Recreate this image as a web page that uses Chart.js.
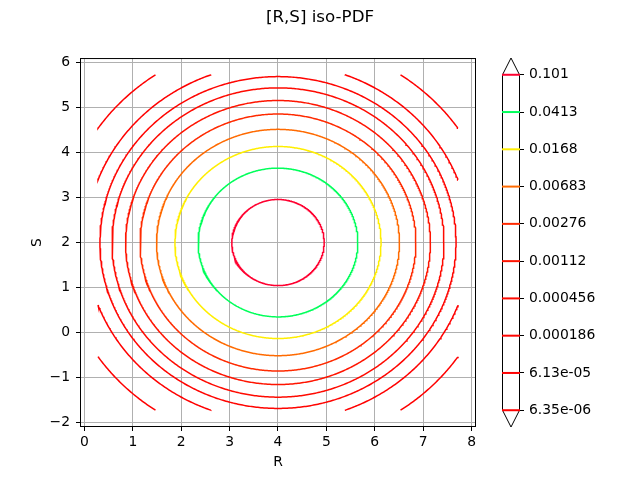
<!DOCTYPE html>
<html lang="en">
<head>
    <meta charset="UTF-8">
    <title>[R,S] iso-PDF</title>
    <style>
        * { margin: 0; padding: 0; box-sizing: border-box; }
        body { background: white; width: 640px; height: 480px; overflow: hidden; }
        .wrap { position: relative; width: 640px; height: 480px; }
        .wrap canvas { position: absolute; left: 0; top: 0; }
    </style>
    <script src="https://cdn.jsdelivr.net/npm/chart.js"></script>
</head>
<body>
<div class="wrap">
    <canvas id="pdfChart" width="640" height="480"></canvas>
    <canvas id="barChart" width="640" height="480"></canvas>
</div>
<script>
    // contour levels, lowest first (colorbar reads bottom to top)
    const levelLabels = ['6.35e-06', '6.13e-05', '0.000186', '0.000456', '0.00112', '0.00276', '0.00683', '0.0168', '0.0413', '0.101'];
    // radius of each iso-line around the centre
    const levelRadii = [4.50, 3.97, 3.68, 3.43, 3.15, 2.85, 2.51, 2.13, 1.65, 0.955];
    const levelColors = ['#ff0000', '#ff0000', '#ff0400', '#ff0a00', '#ff1400', '#ff2a00', '#ff6a00', '#ffee00', '#00ff5a', '#ff0030'];
    const centerR = 4, centerS = 2;
    // extent of the evaluation grid
    const gridR = [0.28, 7.72];
    const gridS = [-1.72, 5.72];
    const rTicks = [0, 1, 2, 3, 4, 5, 6, 7, 8];
    const sTicks = [-2, -1, 0, 1, 2, 3, 4, 5, 6];

    const FONT = 'DejaVu Sans';

    function inside(x, y) {
        return x >= gridR[0] && x <= gridR[1] && y >= gridS[0] && y <= gridS[1];
    }
    function pt(r, a) {
        return { x: centerR + r * Math.cos(a), y: centerS + r * Math.sin(a) };
    }
    // edge point between an inside angle and an outside angle
    function edge(r, aIn, aOut) {
        for (let k = 0; k < 40; k++) {
            const m = (aIn + aOut) / 2;
            const p = pt(r, m);
            if (inside(p.x, p.y)) aIn = m; else aOut = m;
        }
        return pt(r, aIn);
    }
    function contour(r) {
        const n = 720, out = [];
        let prevA = 0, prevIn = null;
        for (let i = 0; i <= n; i++) {
            const a = 2 * Math.PI * i / n;
            const p = pt(r, a);
            const isIn = inside(p.x, p.y);
            if (prevIn !== null && isIn !== prevIn) {
                if (isIn) {
                    out.push(edge(r, a, prevA));
                } else {
                    out.push(edge(r, prevA, a));
                    out.push({ x: p.x, y: null });
                }
            }
            if (isIn) out.push(p);
            prevA = a; prevIn = isIn;
        }
        return out;
    }

    const pad = (gridR[1] - gridR[0]) * 0.05;
    const padS = (gridS[1] - gridS[0]) * 0.05;

    const frame = {
        id: 'frame',
        afterDraw(chart) {
            const a = chart.chartArea, ctx = chart.ctx;
            ctx.save();
            ctx.strokeStyle = '#000';
            ctx.lineWidth = 1;
            ctx.strokeRect(a.left + 0.5, a.top + 0.5, a.right - a.left - 1, a.bottom - a.top - 1);
            ctx.restore();
        }
    };

    new Chart(document.getElementById('pdfChart'), {
        type: 'scatter',
        data: {
            datasets: levelRadii.map((r, i) => ({
                label: levelLabels[i],
                data: contour(r),
                showLine: true,
                borderColor: levelColors[i],
                borderWidth: 1.5,
                pointRadius: 0,
                tension: 0,
                spanGaps: false
            }))
        },
        options: {
            responsive: false,
            animation: false,
            plugins: {
                legend: { display: false },
                tooltip: { enabled: false },
                title: {
                    display: true,
                    text: '[R,S] iso-PDF',
                    color: '#000',
                    font: { family: FONT, size: 16.7, weight: 'normal' },
                    padding: { top: 8, bottom: 30 }
                }
            },
            scales: {
                x: {
                    type: 'linear',
                    min: gridR[0] - pad,
                    max: gridR[1] + pad,
                    afterBuildTicks: s => { s.ticks = rTicks.map(v => ({ value: v })); },
                    afterFit: s => { s.height = 53; },
                    grid: { color: '#b0b0b0', lineWidth: 1, tickColor: '#000', tickLength: 4 },
                    border: { display: false },
                    ticks: { color: '#000', font: { family: FONT, size: 13.9 }, padding: 3, maxRotation: 0 },
                    title: { display: true, text: 'R', color: '#000', font: { family: FONT, size: 13.9 }, padding: { top: 0, bottom: 9 } }
                },
                y: {
                    type: 'linear',
                    min: gridS[0] - padS,
                    max: gridS[1] + padS,
                    afterBuildTicks: s => { s.ticks = sTicks.map(v => ({ value: v })); },
                    afterFit: s => { s.width = 80; },
                    grid: { color: '#b0b0b0', lineWidth: 1, tickColor: '#000', tickLength: 4 },
                    border: { display: false },
                    ticks: { color: '#000', font: { family: FONT, size: 13.9 }, padding: 6,
                        callback: v => String(v).replace('-', '\u2212') },
                    title: { display: true, text: 'S', color: '#000', font: { family: FONT, size: 13.9 }, padding: { top: 29, bottom: 0 } }
                },
                side: {
                    type: 'linear',
                    position: 'right',
                    afterFit: s => { s.width = 164; },
                    grid: { display: false },
                    border: { display: false },
                    ticks: { display: false }
                }
            }
        },
        plugins: [frame]
    });

    // colorbar: one line per level, with triangle ends
    const barOutline = {
        id: 'barOutline',
        beforeDatasetsDraw(chart) {
            const a = chart.chartArea, ctx = chart.ctx, y = chart.scales.y;
            const yTop = y.getPixelForValue(levelLabels.length - 1);
            const yBot = y.getPixelForValue(0);
            const mid = (a.left + a.right) / 2;
            ctx.save();
            ctx.strokeStyle = '#000';
            ctx.lineWidth = 1;
            ctx.beginPath();
            ctx.moveTo(a.left + 0.5, yBot);
            ctx.lineTo(a.left + 0.5, yTop);
            ctx.lineTo(mid, a.top);
            ctx.lineTo(a.right - 0.5, yTop);
            ctx.lineTo(a.right - 0.5, yBot);
            ctx.lineTo(mid, a.bottom);
            ctx.closePath();
            ctx.stroke();
            ctx.restore();
        }
    };

    new Chart(document.getElementById('barChart'), {
        type: 'scatter',
        data: {
            datasets: levelLabels.map((lab, i) => ({
                label: lab,
                data: [{ x: 0, y: i }, { x: 1, y: i }],
                showLine: true,
                borderColor: levelColors[i],
                borderWidth: 2,
                pointRadius: 0
            }))
        },
        options: {
            responsive: false,
            animation: false,
            layout: { padding: { left: 502, top: 58, bottom: 53, right: 0 } },
            plugins: { legend: { display: false }, tooltip: { enabled: false } },
            scales: {
                x: { type: 'linear', min: 0, max: 1, display: false },
                y: {
                    type: 'linear',
                    position: 'right',
                    min: -0.45,
                    max: levelLabels.length - 1 + 0.45,
                    afterBuildTicks: s => { s.ticks = levelLabels.map((l, i) => ({ value: i })); },
                    afterFit: s => { s.width = 120; },
                    grid: { drawOnChartArea: false, color: '#000', tickLength: 4 },
                    border: { display: false },
                    ticks: { color: '#000', font: { family: FONT, size: 13.9 }, padding: 5,
                        callback: (v, i) => levelLabels[i] }
                }
            }
        },
        plugins: [barOutline]
    });
</script>
</body>
</html>
